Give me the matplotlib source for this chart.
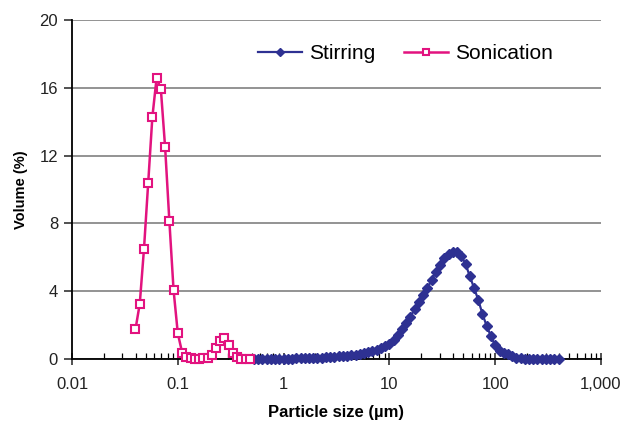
import matplotlib
matplotlib.use("Agg")
import matplotlib.pyplot as plt
from matplotlib.ticker import FixedLocator, NullFormatter

plt.rcParams['font.family'] = ['Liberation Sans', 'DejaVu Sans']

# particle size bins (um) and volume (%)
sonication_size = [0.0398, 0.0437, 0.0479, 0.0525, 0.0575, 0.0631, 0.0692, 0.0759, 0.0832, 0.0912,
                   0.100, 0.110, 0.120, 0.132, 0.145, 0.158, 0.174, 0.191, 0.209, 0.229,
                   0.251, 0.275, 0.302, 0.331, 0.363, 0.398, 0.437, 0.479]
sonication_vol = [1.75, 3.26, 6.49, 10.38, 14.28, 16.6, 15.9, 12.49, 8.16, 4.07,
                  1.52, 0.37, 0.12, 0.03, 0.02, 0.02, 0.03, 0.08, 0.22, 0.64,
                  1.06, 1.23, 0.85, 0.38, 0.1, 0.02, 0.01, 0.01]

stirring_size = [0.525, 0.575, 0.631, 0.692, 0.759, 0.832, 0.912, 1.00, 1.10, 1.20,
                 1.32, 1.45, 1.58, 1.74, 1.91, 2.09, 2.29, 2.51, 2.75, 3.02,
                 3.31, 3.63, 3.98, 4.37, 4.79, 5.25, 5.75, 6.31, 6.92, 7.59,
                 8.32, 9.12, 10.0, 11.0, 12.0, 13.2, 14.5, 15.8, 17.4, 19.1,
                 20.9, 22.9, 25.1, 27.5, 30.2, 33.1, 36.3, 39.8, 43.7, 47.9,
                 52.5, 57.5, 63.1, 69.2, 75.9, 83.2, 91.2, 100, 110, 120,
                 132, 145, 158, 174, 191, 209, 229, 251, 275, 302,
                 331, 363, 398]
stirring_vol = [0, 0, 0, 0, 0, 0.01, 0.01, 0.01, 0.02, 0.02,
                0.03, 0.03, 0.04, 0.05, 0.06, 0.07, 0.08, 0.1, 0.11, 0.13,
                0.15, 0.17, 0.19, 0.22, 0.25, 0.29, 0.34, 0.4, 0.47, 0.55,
                0.64, 0.76, 0.9, 1.1, 1.4, 1.75, 2.1, 2.5, 2.95, 3.35,
                3.8, 4.2, 4.65, 5.15, 5.55, 5.95, 6.2, 6.33, 6.33, 6.1,
                5.6, 4.9, 4.2, 3.5, 2.65, 1.95, 1.35, 0.8, 0.45, 0.33,
                0.28, 0.18, 0.08, 0.03, 0, 0, 0, 0, 0, 0,
                0, 0, 0]

xticks = [0.01, 0.1, 1, 10, 100, 1000]
xtick_labels = ['0.01', '0.1', '1', '10', '100', '1,000']
yticks = [0, 4, 8, 12, 16, 20]

navy = '#2E3192'
pink = '#E2137F'

fig = plt.figure(figsize=(6.24, 4.28), dpi=100)
ax = fig.add_axes([0.1154, 0.1612, 0.8476, 0.7921])

sh, = ax.plot(stirring_size, stirring_vol, color=navy, lw=1.6, marker='D', ms=5.5,
              mec=navy, mfc=navy, clip_on=False, zorder=3)
soh, = ax.plot(sonication_size, sonication_vol, color=pink, lw=1.8, marker='s', ms=6,
               mec=pink, mfc='white', mew=1.5, clip_on=False, zorder=4)

ax.set_xscale('log')
ax.set_xlim(0.01, 1000)
ax.set_ylim(0, 20)
ax.set_xticks(xticks)
ax.set_xticklabels(xtick_labels)
minors = [m * d for d in [0.01, 0.1, 1, 10, 100] for m in range(2, 10)]
ax.xaxis.set_minor_locator(FixedLocator(minors))
ax.xaxis.set_minor_formatter(NullFormatter())
ax.set_yticks(yticks)

ax.yaxis.grid(True, color='#808080', lw=1.2)
ax.set_axisbelow(True)
for s in ['top', 'right']:
    ax.spines[s].set_visible(False)
ax.spines['left'].set_linewidth(1.3)
ax.spines['bottom'].set_linewidth(1.3)

ax.tick_params(axis='x', which='major', direction='inout', length=8, width=1.1, pad=9, labelsize=12, colors='#222222')
ax.tick_params(axis='x', which='minor', direction='in', length=4, width=0.9)
ax.tick_params(axis='y', which='major', direction='out', length=6, width=1.1, pad=4, labelsize=12, colors='#222222')

ax.set_xlabel('Particle size (µm)', fontsize=12, fontweight='bold', labelpad=9)
ax.set_ylabel('Volume (%)', fontsize=10.5, fontweight='bold', labelpad=8)

fig.legend([sh, soh], ['Stirring', 'Sonication'], loc='center', bbox_to_anchor=(0.65, 0.874),
           ncol=2, frameon=False, fontsize=15, handlelength=2.1, handletextpad=0.35,
           columnspacing=1.4, markerscale=0.8)

plt.savefig('out.png', dpi=100)
plt.close()
